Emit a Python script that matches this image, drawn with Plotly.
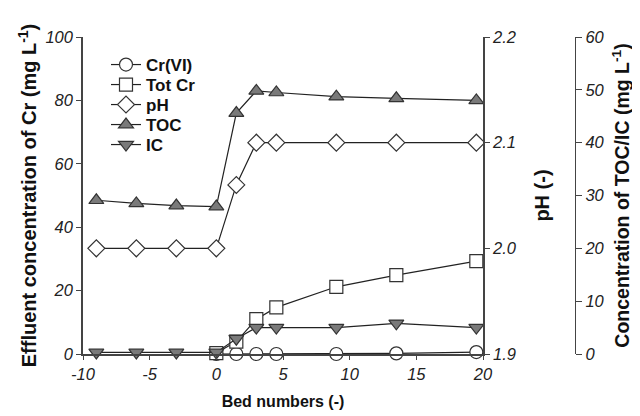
import plotly.graph_objects as go

# ---- data ----
bed_pre = [-9, -6, -3, 0]
bed_post = [1.5, 3, 4.5, 9, 13.5, 19.5]
bed_all = bed_pre + bed_post

crvi_x = [0, 1.5, 3, 4.5, 9, 13.5, 19.5]
crvi_y = [0.0, 0.0, 0.0, 0.0, 0.0, 0.2, 0.6]

totcr_x = [0, 1.5, 3, 4.5, 9, 13.5, 19.5]
totcr_y = [0.3, 3.9, 11.0, 14.7, 21.2, 24.9, 29.3]

ph_y = [2.0, 2.0, 2.0, 2.0, 2.06, 2.1, 2.1, 2.1, 2.1, 2.1]
toc_y = [29.1, 28.5, 28.1, 27.9, 45.6, 49.8, 49.5, 48.7, 48.4, 48.0]
ic_y = [0.3, 0.3, 0.3, 0.3, 2.9, 5.0, 5.0, 5.0, 5.8, 5.0]

x_ticks = [-10, -5, 0, 5, 10, 15, 20]
x_labels = ["-10", "-5", "0", "5", "10", "15", "20"]
y1_ticks = [0, 20, 40, 60, 80, 100]
y2_ticks = [1.9, 2.0, 2.1, 2.2]
y2_labels = ["1.9", "2.0", "2.1", "2.2"]
y3_ticks = [0, 10, 20, 30, 40, 50, 60]

FONT = "Liberation Sans, Arial, sans-serif"
LINE = "#222222"
EDGE = "#333333"
GRAY = "#7a7a7a"

# the page body adds an 8 px offset; plot area on screen: x 83..483, y 37..354
OFF = 8
L, T = 83 - OFF, 37 - OFF
W = 547.0
H = 317.0
B = 416 - (T + int(H))
R = 640 - (L + int(W))

fig = go.Figure()

legend_names = ["legend", "legend2", "legend3", "legend4", "legend5"]

def add(i, name, x, y, symbol, fill, yaxis):
    fig.add_trace(go.Scatter(
        x=x, y=y, name=name, mode="lines+markers", yaxis=yaxis,
        legend=legend_names[i],
        line=dict(color=LINE, width=1.2),
        marker=dict(symbol=symbol, size=13, color=fill,
                    line=dict(color=EDGE, width=1.2)),
        cliponaxis=False,
    ))

add(0, "Cr(VI)", crvi_x, crvi_y, "circle", "white", "y")
add(1, "Tot Cr", totcr_x, totcr_y, "square", "white", "y")
add(2, "pH", bed_all, ph_y, "diamond", "white", "y2")
add(3, "TOC", bed_all, toc_y, "triangle-up", GRAY, "y3")
add(4, "IC", bed_all, ic_y, "triangle-down", GRAY, "y3")

xdom_end = 400.0 / W
tickfont = dict(family=FONT, size=16.5, color="#222")
titlefont = dict(family=FONT, size=20, weight="bold", color="#111")

def ital(vals):
    return ["<i>%s</i>" % v for v in vals]

legend_font = dict(family=FONT, size=17, weight="bold", color="#111")
legends = {}
item_y_px = [65, 85, 105, 125, 145]
for i, ln in enumerate(legend_names):
    ypx = item_y_px[i]
    legends[ln] = dict(x=(106 - 83) / W, y=(354 - ypx) / H, xanchor="left", yanchor="middle",
                       font=legend_font, bgcolor="rgba(0,0,0,0)", itemwidth=30,
                       borderwidth=0)

fig.update_layout(
    width=640, height=416,
    margin=dict(l=L, r=R, t=T, b=B, autoexpand=False),
    paper_bgcolor="white", plot_bgcolor="white",
    showlegend=True,
    **legends,
    xaxis=dict(domain=[0, xdom_end], range=[-10, 20], tickvals=x_ticks, ticktext=ital(x_labels),
               showline=True, linecolor="#444", linewidth=1.5, ticks="outside",
               ticklen=4, tickcolor="#444", showgrid=False, zeroline=False,
               tickfont=tickfont, automargin=False,
               title=dict(text="Bed numbers (-)", font=dict(family=FONT, size=16, weight="bold", color="#111"),
                          standoff=14)),
    yaxis=dict(range=[0, 100], tickvals=y1_ticks, ticktext=ital(y1_ticks),
               showline=True, linecolor="#444", linewidth=1.5, ticks="outside",
               ticklen=5, tickcolor="#444", showgrid=False, zeroline=False,
               tickfont=tickfont, automargin=False,
               title=dict(text="Effluent concentration of Cr (mg L<sup>-1</sup>)",
                          font=titlefont, standoff=3)),
    yaxis2=dict(range=[1.9, 2.2], tickvals=y2_ticks, ticktext=ital(y2_labels),
                overlaying="y", side="right", anchor="x",
                showline=True, linecolor="#444", linewidth=1.5, ticks="outside",
                ticklen=5, tickcolor="#444", showgrid=False, zeroline=False,
                tickfont=tickfont, automargin=False,
                title=dict(text="pH (-)", font=titlefont, standoff=19)),
    yaxis3=dict(range=[0, 60], tickvals=y3_ticks, ticktext=ital(y3_ticks),
                overlaying="y", side="right", anchor="free",
                position=(575 - 83) / W,
                showline=True, linecolor="#444", linewidth=1.2, ticks="outside",
                ticklen=6, tickcolor="#444", showgrid=False, zeroline=False,
                tickfont=tickfont, automargin=False,
                title=dict(text="Concentration of TOC/IC (mg L<sup>-1</sup>)",
                           font=dict(family=FONT, size=19.5, weight="bold", color="#111"),
                           standoff=11)),
)

fig.write_html("out.html")
